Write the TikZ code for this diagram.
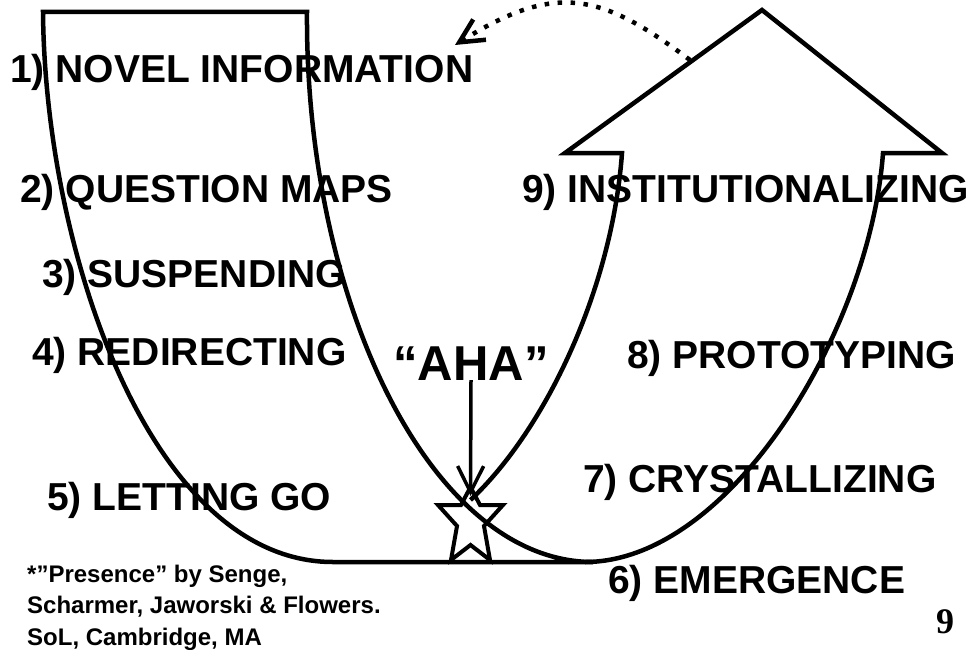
\documentclass[tikz,border=0pt]{standalone}
\usepackage{fontspec}
\setmainfont{Liberation Sans}
\newfontfamily\pagefont{Liberation Serif}
\usetikzlibrary{arrows.meta}

\begin{document}
\begin{tikzpicture}[x=1pt, y=-1pt,
    shp/.style={line width=4.5pt, line join=miter},
    stage/.style={anchor=base west, inner sep=0pt, font=\fontsize{39}{44}\selectfont\bfseries},
    arrow/.style={-{Straight Barb[length=26pt, width=26pt]}, line width=3.5pt},
    loop/.style={-{Straight Barb[length=24pt, width=24pt]}, line width=4.5pt, dash pattern=on 4.5pt off 8.5pt},
    note/.style={anchor=base west, inner sep=0pt, align=left, font=\fontsize{24}{31.5}\selectfont\bfseries}
]
\useasboundingbox (0,0) rectangle (971,650);

% left U going down
\draw[shp] (43,12) -- (307,12) .. controls (305,300) and (430,562) .. (593,562)
    -- (333,562) .. controls (150,562) and (45,250) .. cycle;

% arrow coming up
\draw[shp] (585,562) .. controls (730,562) and (870,330) .. (883,153) -- (942,153)
    -- (762,10) -- (565,153) -- (622,153) .. controls (612,290) and (545,430) .. (470.5,500);

% star at the bottom
\draw[shp, line width=4pt] (470.5,487) -- (480,505) -- (503,505) -- (484,526) -- (490,560)
    -- (470.5,545) -- (451,560) -- (457,526) -- (438,505) -- (461,505) -- cycle;

% stages
\node[stage] (novel) at (10,83) {1) NOVEL INFORMATION};
\node[stage] (question) at (20,202) {2) QUESTION MAPS};
\node[stage] (suspend) at (42,287) {3) SUSPENDING};
\node[stage] (redirect) at (32,365) {4) REDIRECTING};
\node[stage] (letgo) at (47,510) {5) LETTING GO};
\node[stage] (emerge) at (608,593) {6) EMERGENCE};
\node[stage] (crystal) at (583,492) {7) CRYSTALLIZING};
\node[stage] (proto) at (627,368) {8) PROTOTYPING};
\node[stage] (instit) at (522,202) {9) INSTITUTIONALIZING};

% aha
\node[anchor=base, inner sep=0pt, font=\fontsize{49}{54}\selectfont\bfseries] (aha) at (471,380) {“AHA”};
\coordinate (startip) at (470.5,496);
\draw[arrow] (aha.south) -- (startip);

% back to the start
\coordinate (loopstart) at (690,60);
\coordinate (looptip) at (455,45);
\draw[loop] (loopstart) .. controls (602,-6) and (557,-19) .. (looptip);

% source and page
\node[note] (source) at (27,645) {*”Presence” by Senge,\\Scharmer, Jaworski \& Flowers.\\SoL, Cambridge, MA};
\node[anchor=base west, inner sep=0pt, font=\pagefont\fontsize{36}{40}\selectfont\bfseries] (pagenum) at (936,633) {9};

\end{tikzpicture}
\end{document}
